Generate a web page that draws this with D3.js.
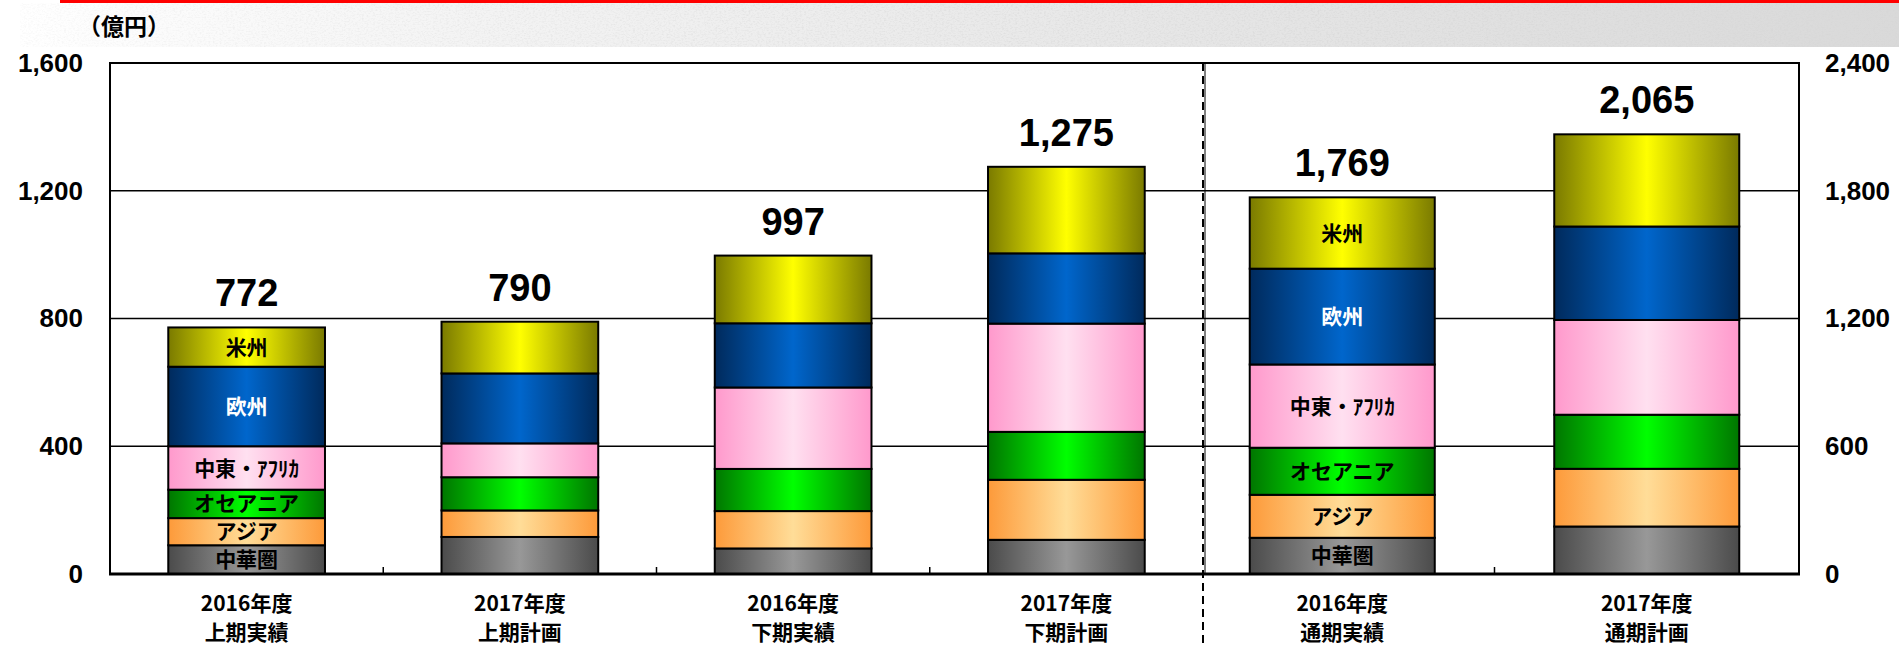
<!DOCTYPE html>
<html>
<head>
<meta charset="utf-8">
<script src="https://cdn.jsdelivr.net/npm/d3@7"></script>
<style>
  body { margin: 0; background: #fff; }
  svg { display: block; }
</style>
</head>
<body>
<div id="chart"></div>
<script>
// ---- data (億円) ------------------------------------------------------
const halfCats = ["2016年度\n上期実績", "2017年度\n上期計画", "2016年度\n下期実績", "2017年度\n下期計画"];
const fullCats = ["2016年度\n通期実績", "2017年度\n通期計画"];
const categories = [...halfCats, ...fullCats];

const regions = ["中華圏", "アジア", "オセアニア", "中東・ｱﾌﾘｶ", "欧州", "米州"];

//                    上期実績 上期計画 下期実績 下期計画 通期実績 通期計画
const chinaVals     = [ 90, 116,  80, 107, 170, 223];
const asiaVals      = [ 85,  83, 117, 188, 202, 271];
const oceaniaVals   = [ 89, 104, 132, 150, 221, 254];
const meaVals       = [136, 106, 255, 339, 391, 445];
const europeVals    = [249, 219, 201, 220, 450, 439];
const americasVals  = [123, 162, 212, 271, 335, 433];

const leftTicks  = [0, 400, 800, 1200, 1600];
const rightTicks = [0, 600, 1200, 1800, 2400];

// bars that carry the region names inside their segments
const labeledCats = ["2016年度\n上期実績", "2016年度\n通期実績"];

// ---- look -------------------------------------------------------------
const W = 1899, H = 646;
const plotL = 110, plotR = 1799, plotT = 63, plotB = 574;
const divX = 1203;          // dashed divider between half-year and full-year
const fullStart = 1190;     // full-year panel category range starts here

const NUM_FONT = "'Liberation Sans', Arial, sans-serif";
const JP_FONT  = "'Noto Sans CJK JP', 'Noto Sans', sans-serif";

// edge / centre colours of each region's horizontal gradient
const grad = {
  "中華圏":     ["#4b4b4b", "#989898"],
  "アジア":     ["#fd9a3a", "#ffdd98"],
  "オセアニア": ["#007600", "#00ff00"],
  "中東・ｱﾌﾘｶ": ["#ff99cc", "#ffe0f0"],
  "欧州":       ["#002a5c", "#0066cc"],
  "米州":       ["#7a7a00", "#ffff00"]
};
const labelColour = r => r === "欧州" ? "#fff" : "#000";

// ---- scales -----------------------------------------------------------
const yL = d3.scaleLinear().domain([0, 1600]).range([plotB, plotT]);
const yR = d3.scaleLinear().domain([0, 2400]).range([plotB, plotT]);

const xL = d3.scaleBand().domain(halfCats).range([plotL, divX])
  .paddingInner(0.4265).paddingOuter(0.4265 / 2);
const xR = d3.scaleBand().domain(fullCats).range([fullStart, plotR])
  .paddingInner(0.3924).paddingOuter(0.3924 / 2);

const isFull = c => fullCats.includes(c);
const xOf = c => isFull(c) ? xR : xL;
const yOf = c => isFull(c) ? yR : yL;

const valueArrays = [chinaVals, asiaVals, oceaniaVals, meaVals, europeVals, americasVals];
const rows = categories.map((c, i) => {
  const r = { cat: c };
  regions.forEach((k, j) => r[k] = valueArrays[j][i]);
  return r;
});
const series = d3.stack().keys(regions)(rows);
const totals = rows.map(r => d3.sum(regions, k => r[k]));

// ---- svg --------------------------------------------------------------
const svg = d3.select("#chart").append("svg")
  .attr("width", W).attr("height", H)
  .attr("viewBox", `0 0 ${W} ${H}`);

const defs = svg.append("defs");

regions.forEach((r, i) => {
  const g = defs.append("linearGradient").attr("id", `g${i}`)
    .attr("x1", "0%").attr("x2", "100%").attr("y1", "0%").attr("y2", "0%");
  g.append("stop").attr("offset", "0%").attr("stop-color", grad[r][0]);
  g.append("stop").attr("offset", "50%").attr("stop-color", grad[r][1]);
  g.append("stop").attr("offset", "100%").attr("stop-color", grad[r][0]);
});

// header band: fading grey texture + red rule
const bandG = defs.append("linearGradient").attr("id", "band")
  .attr("x1", "0%").attr("x2", "100%");
bandG.append("stop").attr("offset", "0%").attr("stop-color", "#fff");
bandG.append("stop").attr("offset", "25%").attr("stop-color", "#f3f3f3");
bandG.append("stop").attr("offset", "100%").attr("stop-color", "#d9d9d9");

const maskG = defs.append("linearGradient").attr("id", "bandMaskG")
  .attr("x1", "0%").attr("x2", "100%");
maskG.append("stop").attr("offset", "0%").attr("stop-color", "#333");
maskG.append("stop").attr("offset", "100%").attr("stop-color", "#fff");
defs.append("mask").attr("id", "bandMask")
  .append("rect").attr("x", 0).attr("y", 0).attr("width", W).attr("height", 48)
  .attr("fill", "url(#bandMaskG)");

const noise = defs.append("filter").attr("id", "noise")
  .attr("x", 0).attr("y", 0).attr("width", "100%").attr("height", "100%");
noise.append("feTurbulence").attr("type", "fractalNoise")
  .attr("baseFrequency", "0.45 0.7").attr("numOctaves", 2).attr("seed", 7);
noise.append("feColorMatrix").attr("type", "matrix")
  .attr("values", "0 0 0 0 0.68  0 0 0 0 0.68  0 0 0 0 0.68  0 0 0 -2.6 1.45");

svg.append("rect").attr("x", 20).attr("y", 3).attr("width", W - 20).attr("height", 44)
  .attr("fill", "url(#band)");
svg.append("rect").attr("x", 20).attr("y", 3).attr("width", W - 20).attr("height", 44)
  .attr("filter", "url(#noise)").attr("mask", "url(#bandMask)").attr("opacity", 0.85);
svg.append("rect").attr("x", 60).attr("y", 0).attr("width", W - 60).attr("height", 3)
  .attr("fill", "#ff0000");

svg.append("text")
  .attr("x", 78).attr("y", 27).attr("dy", "0.36em")
  .attr("font-family", JP_FONT).attr("font-weight", 700).attr("font-size", 23)
  .text("（億円）");

// plot background + gridlines
svg.append("rect").attr("x", plotL).attr("y", plotT)
  .attr("width", plotR - plotL).attr("height", plotB - plotT).attr("fill", "#fff");

svg.append("g").selectAll("line")
  .data(leftTicks.slice(1, -1))
  .join("line")
    .attr("x1", plotL).attr("x2", plotR)
    .attr("y1", d => yL(d)).attr("y2", d => yL(d))
    .attr("stroke", "#000").attr("stroke-width", 1.5);

// stacked bars
const barG = svg.append("g");
series.forEach((s, i) => {
  barG.append("g")
    .attr("fill", `url(#g${i})`)
    .attr("stroke", "#000").attr("stroke-width", 2)
    .selectAll("rect")
    .data(s)
    .join("rect")
      .attr("x", d => xOf(d.data.cat)(d.data.cat))
      .attr("width", d => xOf(d.data.cat).bandwidth())
      .attr("y", d => yOf(d.data.cat)(d[1]))
      .attr("height", d => yOf(d.data.cat)(d[0]) - yOf(d.data.cat)(d[1]));
});

// region names inside the labelled bars
series.forEach((s, i) => {
  const key = regions[i];
  barG.append("g").selectAll("text")
    .data(s.filter(d => labeledCats.includes(d.data.cat)))
    .join("text")
      .attr("x", d => xOf(d.data.cat)(d.data.cat) + xOf(d.data.cat).bandwidth() / 2)
      .attr("y", d => (yOf(d.data.cat)(d[0]) + yOf(d.data.cat)(d[1])) / 2)
      .attr("dy", "0.36em")
      .attr("text-anchor", "middle")
      .attr("font-family", JP_FONT).attr("font-weight", 700).attr("font-size", 21)
      .attr("fill", labelColour(key))
      .text(key);
});

// totals above bars
svg.append("g").selectAll("text")
  .data(categories)
  .join("text")
    .attr("x", c => xOf(c)(c) + xOf(c).bandwidth() / 2)
    .attr("y", (c, i) => yOf(c)(totals[i]) - 21)
    .attr("text-anchor", "middle")
    .attr("font-family", NUM_FONT).attr("font-weight", 700).attr("font-size", 38)
    .text((c, i) => d3.format(",")(totals[i]));

// frame
svg.append("path")
  .attr("d", `M${plotL},${plotB}V${plotT}H${plotR}V${plotB}`)
  .attr("fill", "none").attr("stroke", "#000").attr("stroke-width", 2);
svg.append("line")
  .attr("x1", plotL - 1).attr("x2", plotR + 1).attr("y1", plotB).attr("y2", plotB)
  .attr("stroke", "#000").attr("stroke-width", 3);

// category boundary ticks (inward)
const bounds = [
  ...halfCats.slice(1).map(c => xL(c) - xL.step() * xL.paddingInner() / 2),
  ...fullCats.slice(1).map(c => xR(c) - xR.step() * xR.paddingInner() / 2)
];
svg.append("g").selectAll("line")
  .data(bounds)
  .join("line")
    .attr("x1", d => d).attr("x2", d => d)
    .attr("y1", plotB).attr("y2", plotB - 7)
    .attr("stroke", "#000").attr("stroke-width", 1.5);

// divider: thin solid edge of the full-year panel + dashed rule
svg.append("line")
  .attr("x1", divX + 2).attr("x2", divX + 2).attr("y1", plotT).attr("y2", plotB)
  .attr("stroke", "#000").attr("stroke-width", 1);
svg.append("line")
  .attr("x1", divX).attr("x2", divX).attr("y1", plotT).attr("y2", H)
  .attr("stroke", "#000").attr("stroke-width", 2).attr("stroke-dasharray", "8,5");

// y axes
function axisStyle(g) {
  g.select(".domain").remove();
  g.selectAll("line").remove();
  g.selectAll("text")
    .attr("font-family", NUM_FONT).attr("font-weight", 700).attr("font-size", 26)
    .attr("fill", "#000");
}
svg.append("g").attr("transform", `translate(${plotL},0)`)
  .call(d3.axisLeft(yL).tickValues(leftTicks).tickFormat(d3.format(",")).tickSize(0).tickPadding(27))
  .call(axisStyle);
svg.append("g").attr("transform", `translate(${plotR},0)`)
  .call(d3.axisRight(yR).tickValues(rightTicks).tickFormat(d3.format(",")).tickSize(0).tickPadding(26))
  .call(axisStyle);

// category labels (two lines)
const catText = svg.append("g").selectAll("text")
  .data(categories)
  .join("text")
    .attr("x", c => xOf(c)(c) + xOf(c).bandwidth() / 2)
    .attr("y", 603)
    .attr("text-anchor", "middle")
    .attr("font-family", JP_FONT).attr("font-weight", 700).attr("font-size", 21);
catText.selectAll("tspan")
  .data(c => c.split("\n").map(t => ({ t, x: xOf(c)(c) + xOf(c).bandwidth() / 2 })))
  .join("tspan")
    .attr("x", d => d.x)
    .attr("dy", (d, i) => i === 0 ? "0.36em" : "1.4em")
    .text(d => d.t);
</script>
</body>
</html>
